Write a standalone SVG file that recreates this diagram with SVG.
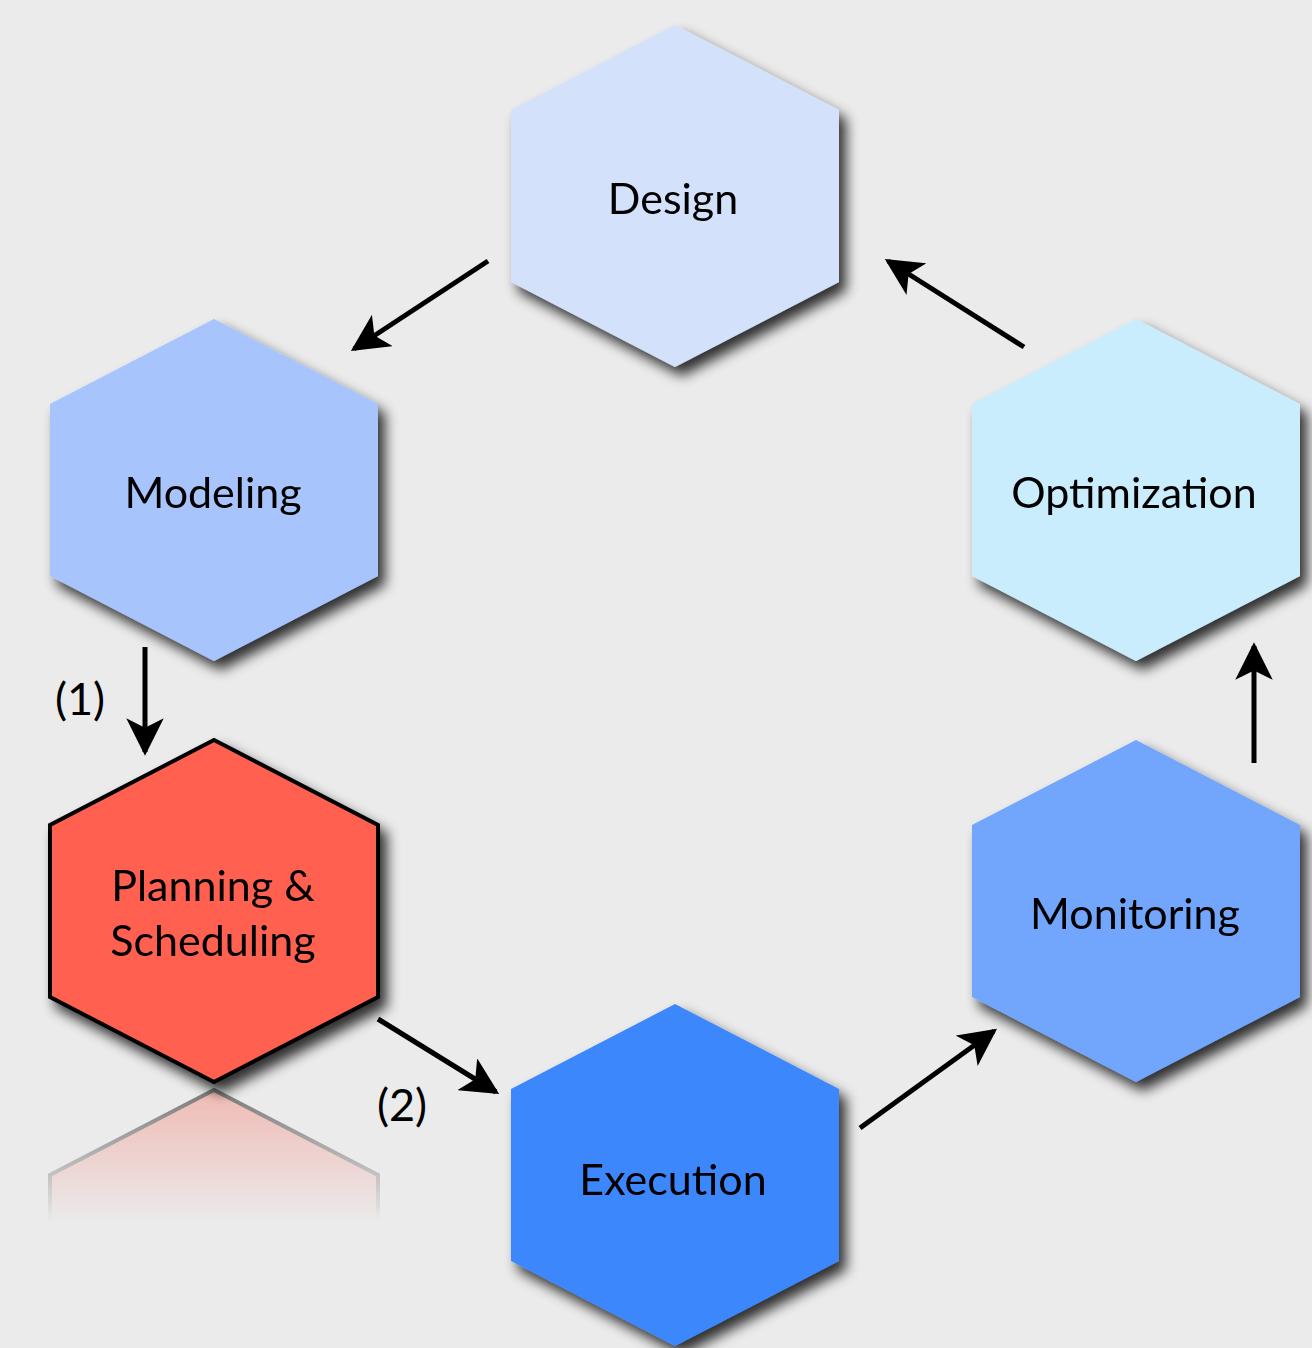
<svg xmlns="http://www.w3.org/2000/svg" xmlns:xlink="http://www.w3.org/1999/xlink" width="1312" height="1348" viewBox="0 0 1312 1348">
  <style>
    .label { font-family: "Lato", "Open Sans", "Liberation Sans", sans-serif; font-size: 43px; fill: #000; text-anchor: middle; dominant-baseline: central; }
    .step { font-family: "Lato", "Open Sans", "Liberation Sans", sans-serif; font-size: 45px; fill: #000; text-anchor: middle; dominant-baseline: central; }
    .conn { stroke: #000; stroke-width: 5; fill: none; marker-end: url(#head); }
  </style>
  <defs>
    <!-- pointy-top hexagon centred on the origin -->
    <path id="hex" d="M0,-171 L164,-86 L164,86 L0,171 L-164,86 L-164,-86 Z"/>
    <filter id="shadow" x="-20%" y="-20%" width="150%" height="150%">
      <feGaussianBlur in="SourceAlpha" stdDeviation="6.5"/>
      <feOffset dx="7" dy="9" result="b"/>
      <feComponentTransfer><feFuncA type="linear" slope="0.8"/></feComponentTransfer>
      <feMerge><feMergeNode/><feMergeNode in="SourceGraphic"/></feMerge>
    </filter>
    <marker id="head" viewBox="0 0 10 10" refX="9" refY="5" markerWidth="7.5" markerHeight="7.5" markerUnits="strokeWidth" orient="auto">
      <path d="M0,0 L10,5 L0,10 L2.5,5 Z" fill="#000"/>
    </marker>
    <linearGradient id="fade" x1="0" y1="1090" x2="0" y2="1222" gradientUnits="userSpaceOnUse">
      <stop offset="0" stop-color="#fff" stop-opacity="1"/>
      <stop offset="1" stop-color="#fff" stop-opacity="0"/>
    </linearGradient>
    <mask id="reflMask" maskUnits="userSpaceOnUse" x="0" y="1080" width="420" height="160">
      <rect x="0" y="1080" width="420" height="160" fill="url(#fade)"/>
    </mask>
  </defs>

  <rect width="1312" height="1348" fill="#ebebeb"/>

  <!-- mirrored copy under the highlighted step -->
  <g id="reflection" mask="url(#reflMask)">
    <use xlink:href="#hex" transform="translate(214,1261) scale(1,-1)" fill="#f39a90" fill-opacity="0.6" stroke="#7a7a7a" stroke-width="4"/>
  </g>

  <g id="node-design" filter="url(#shadow)">
    <use xlink:href="#hex" x="675" y="196" fill="#d4e1fb"/>
    <text class="label" x="673" y="197">Design</text>
  </g>
  <g id="node-modeling" filter="url(#shadow)">
    <use xlink:href="#hex" x="214" y="490" fill="#a8c4fc"/>
    <text class="label" x="213" y="491">Modeling</text>
  </g>
  <g id="node-planning" filter="url(#shadow)">
    <use xlink:href="#hex" x="214" y="911" fill="#ff6150" stroke="#000" stroke-width="4" stroke-linejoin="miter"/>
    <text class="label" x="213" y="884">Planning &amp;</text>
    <text class="label" x="213" y="939">Scheduling</text>
  </g>
  <g id="node-execution" filter="url(#shadow)">
    <use xlink:href="#hex" x="675" y="1175" fill="#3d87fd"/>
    <text class="label" x="673" y="1178">Execution</text>
  </g>
  <g id="node-monitoring" filter="url(#shadow)">
    <use xlink:href="#hex" x="1136" y="911" fill="#72a5fc"/>
    <text class="label" x="1135" y="912">Monitoring</text>
  </g>
  <g id="node-optimization" filter="url(#shadow)">
    <use xlink:href="#hex" x="1136" y="490" fill="#c9edfc"/>
    <text class="label" x="1134" y="491">Optimization</text>
  </g>

  <g id="connectors">
    <line class="conn" x1="488" y1="261" x2="354" y2="349"/>
    <line class="conn" x1="145" y1="647" x2="145" y2="752"/>
    <line class="conn" x1="378" y1="1019" x2="496" y2="1092"/>
    <line class="conn" x1="860" y1="1128" x2="994" y2="1031"/>
    <line class="conn" x1="1254" y1="763" x2="1254" y2="646"/>
    <line class="conn" x1="1024" y1="347" x2="888" y2="261"/>
    <text class="step" x="80" y="698">(1)</text>
    <text class="step" x="402" y="1104">(2)</text>
  </g>
</svg>
